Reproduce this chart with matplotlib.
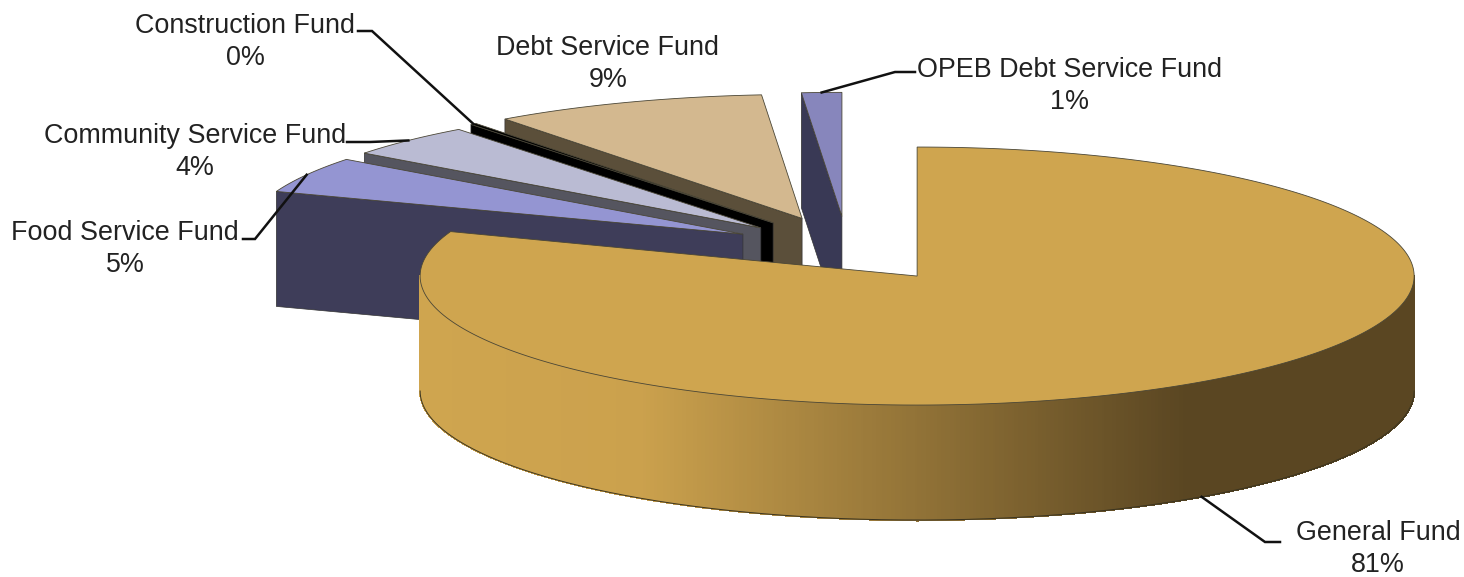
"""Fund balance share by fund, drawn as an exploded 3-D pie on a pixel-sized axes."""
import numpy as np
import matplotlib
matplotlib.use("Agg")
import matplotlib.pyplot as plt
from matplotlib.collections import PolyCollection
from matplotlib.colors import LinearSegmentedColormap

# Funds in clockwise order starting from 12 o'clock
FUNDS = ["General Fund", "Food Service Fund", "Community Service Fund",
         "Construction Fund", "Debt Service Fund", "OPEB Debt Service Fund"]
SHARES = [80.6, 4.7, 4.3, 0.2, 8.9, 1.3]

TOP_COLORS = ["#CFA54F", "#9495D2", "#BABBD3", "#000000", "#D3B88F", "#8786BC"]
SIDE_COLORS = ["#5A4622", "#3E3D59", "#55555F", "#000000", "#5B4F3A", "#393955"]

# Label centre and the elbow where each leader leaves its label
LABEL_XY = [(1378, 549), (125, 249), (195, 152), (245, 42), (608, 64), (1070, 86)]
LEADER_START = [(1280, 542), (243, 239), (347, 142), (358, 31), None, (915, 72)]
LEADER_ELBOW = [(1265, 542), (255, 239), (370, 142), (372, 31), None, (895, 72)]

# Pie projection, in pixels
CENTER = (846, 249.6)
RX, RY = 497, 129
RY_BACK = 124  # slices pushed away from the viewer look a little flatter
DEPTH = 115
EXPLODE = 0.25
APEX_NUDGE = [(0, 0), (6, 0), (3, 1), (2, -1), (0, -1), (1, -1)]

WALL_CMAP = LinearSegmentedColormap.from_list(
    "wall", [(0, "#CFA54F"), (0.22, "#CBA14D"), (0.77, "#5A4622"), (1, "#5A4622")])


def point(apex, angle, radius=1.0, ry=RY):
    """Screen position at a clockwise angle from 12 o'clock around a slice apex."""
    a = np.radians(angle)
    return apex[0] + radius * RX * np.sin(a), apex[1] - radius * ry * np.cos(a)


def arc(apex, start, stop, ry=RY):
    angles = np.linspace(start, stop, max(int(abs(stop - start) * 4), 2))
    xs, ys = point(apex, angles, ry=ry)
    return np.column_stack([xs, ys])


def draw_wall(ax, apex, start, stop, z):
    pts = arc(apex, start, stop)
    quads = [[pts[i], pts[i + 1], pts[i + 1] + (0, DEPTH), pts[i] + (0, DEPTH)]
             for i in range(len(pts) - 1)]
    mids = (pts[:-1, 0] + pts[1:, 0]) / 2
    colors = WALL_CMAP((mids - pts[:, 0].min()) / np.ptp(pts[:, 0]))
    ax.add_collection(PolyCollection(quads, facecolors=colors, edgecolors=colors,
                                     linewidths=0.8, antialiaseds=False, zorder=z))
    ax.plot(pts[:, 0], pts[:, 1] + DEPTH, color="#3a3420", lw=0.7, zorder=z + 0.1)


fig = plt.figure(figsize=(14.64, 5.77), dpi=100)
ax = fig.add_axes([0, 0, 1, 1])
ax.set_xlim(0, 1464)
ax.set_ylim(577, 0)
ax.axis("off")

spans = 3.6 * np.cumsum([0] + SHARES)
apexes = []
for i in range(len(FUNDS)):
    mid = (spans[i] + spans[i + 1]) / 2
    x, y = point(CENTER, mid, EXPLODE)
    apexes.append((x + APEX_NUDGE[i][0], y + APEX_NUDGE[i][1]))

# Paint back to front: OPEB first, General last
for i in reversed(range(len(FUNDS))):
    z = 10 + (len(FUNDS) - i) * 2
    apex, start, stop = apexes[i], spans[i], spans[i + 1]
    ry = RY if i == 0 else RY_BACK

    # Cut face along the slice's leading edge
    if i > 0:
        corner = np.array(point(apex, start, ry=ry))
        tip = np.array(apex)
        face = [corner, tip, tip + (0, DEPTH), corner + (0, DEPTH)]
        ax.add_patch(plt.Polygon(face, facecolor=SIDE_COLORS[i], edgecolor="#333333",
                                 lw=0.5, zorder=z))
    else:
        draw_wall(ax, apex, 90, 270, z)

    top = np.vstack([[apex], arc(apex, start, stop, ry=ry)])
    ax.add_patch(plt.Polygon(top, closed=True, facecolor=TOP_COLORS[i],
                             edgecolor="#4a4636", lw=0.6, zorder=z + 0.5))

# Leaders and labels
for i, fund in enumerate(FUNDS):
    x, y = LABEL_XY[i]
    ax.text(x, y, f"{fund}\n{SHARES[i]:.0f}%", ha="center", va="center",
            fontsize=19.4, family="Liberation Sans", color="#222222",
            linespacing=1.3, zorder=40)
    if LEADER_START[i] is None:
        continue
    mid = (spans[i] + spans[i + 1]) / 2
    tx, ty = point(apexes[i], mid, ry=RY if i == 0 else RY_BACK)
    if i == 0:
        ty += DEPTH
    ax.plot([LEADER_START[i][0], LEADER_ELBOW[i][0], tx],
            [LEADER_START[i][1], LEADER_ELBOW[i][1], ty],
            color="#111111", lw=1.8, zorder=35, solid_joinstyle="miter")

fig.savefig("out.png", dpi=100, facecolor="white")
plt.close(fig)
